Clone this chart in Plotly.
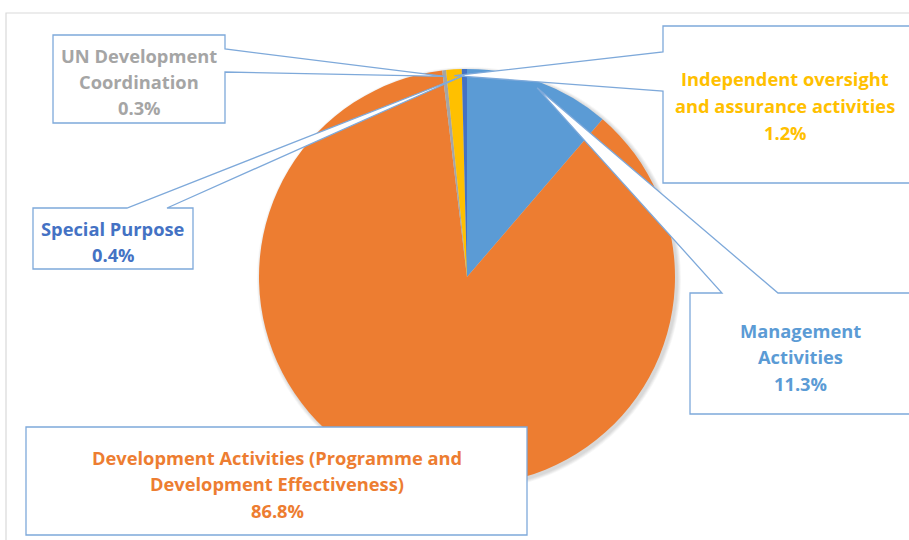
import math
import plotly.graph_objects as go

W, H = 909, 540

# ---- data (clockwise from 12 o'clock) ----
categories = ["Management Activities",
              "Development Activities (Programme and Development Effectiveness)",
              "UN Development Coordination",
              "Independent oversight and assurance activities",
              "Special Purpose"]
values = [11.3, 86.8, 0.3, 1.2, 0.4]
colors = ["#5B9BD5", "#ED7D31", "#A5A5A5", "#FFC000", "#4472C4"]
label_lines = [["Management", "Activities"],
               ["Development Activities (Programme and", "Development Effectiveness)"],
               ["UN Development", "Coordination"],
               ["Independent oversight", "and assurance activities"],
               ["Special Purpose"]]

# ---- layout geometry (pixels, y from top) ----
CX, CY, R = 467, 277, 208
boxes = [
    dict(box=(690, 293, 915, 414), tx=800, ty=330, edge="top", base=(722, 778)),
    dict(box=(26, 427, 527, 535), tx=277, ty=457, edge=None, base=None),
    dict(box=(53, 35, 225, 123), tx=139, ty=55, edge="right", base=(49, 72)),
    dict(box=(663, 26, 915, 183), tx=785, ty=79, edge="left", base=(52, 91)),
    dict(box=(33, 208, 193, 269), tx=113, ty=228, edge="top", base=(127, 167)),
]
LINE_H = 26.5
BORDER = "#7EA9DA"

def px(x):
    return x / W

def py(y):
    return 1 - y / H

fig = go.Figure(go.Pie(
    labels=categories, values=values, sort=False, direction="clockwise",
    rotation=0, marker=dict(colors=colors, line=dict(width=0)),
    textinfo="none", hoverinfo="label+percent", showlegend=False,
    domain=dict(x=[px(CX - R), px(CX + R)], y=[py(CY + R), py(CY - R)]),
))

shapes = []
# outer chart border
shapes.append(dict(type="rect", xref="paper", yref="paper",
                   x0=px(6), y0=py(560), x1=px(930), y1=py(13),
                   line=dict(color="#D9D9D9", width=1.2), layer="below"))
# soft pie shadow
for k in range(1, 6):
    rr = R + k * 0.8
    sx, sy = CX + 2, CY + 2
    shapes.append(dict(type="circle", xref="paper", yref="paper",
                       x0=px(sx - rr), x1=px(sx + rr), y0=py(sy + rr), y1=py(sy - rr),
                       fillcolor="rgba(0,0,0,0.03)", line=dict(width=0), layer="below"))

annotations = []
total = sum(values)
cum = 0.0
for i, v in enumerate(values):
    mid = (cum + v / 2) / total * 2 * math.pi
    cum += v
    tipx = CX + 0.97 * R * math.sin(mid)
    tipy = CY - 0.97 * R * math.cos(mid)
    b = boxes[i]
    x0, y0, x1, y1 = b["box"]
    if b["edge"] is None:
        pts = [(x0, y0), (x1, y0), (x1, y1), (x0, y1)]
    elif b["edge"] == "top":
        a, c = b["base"]
        pts = [(x0, y0), (a, y0), (tipx, tipy), (c, y0), (x1, y0), (x1, y1), (x0, y1)]
    elif b["edge"] == "right":
        a, c = b["base"]
        pts = [(x0, y0), (x1, y0), (x1, a), (tipx, tipy), (x1, c), (x1, y1), (x0, y1)]
    else:  # left
        a, c = b["base"]
        pts = [(x0, y0), (x1, y0), (x1, y1), (x0, y1), (x0, c), (tipx, tipy), (x0, a)]
    path = "M " + " L ".join(f"{px(x):.5f},{py(y):.5f}" for x, y in pts) + " Z"
    shapes.append(dict(type="path", xref="paper", yref="paper", path=path,
                       fillcolor="white", line=dict(color=BORDER, width=1.3),
                       layer="above"))
    lines = label_lines[i] + [f"{v:.1f}%"]
    for k, t in enumerate(lines):
        annotations.append(dict(
            x=px(b["tx"]), y=py(b["ty"] + k * LINE_H), xref="paper", yref="paper",
            text=f"<b>{t}</b>", showarrow=False, xanchor="center", yanchor="middle",
            font=dict(family="Open Sans", size=18.3, color=colors[i])))

fig.update_layout(
    width=W, height=H, margin=dict(l=0, r=0, t=0, b=0),
    paper_bgcolor="white", plot_bgcolor="white",
    shapes=shapes, annotations=annotations,
)

fig.write_html("out.html", config={"displayModeBar": False},
               post_script="document.body.style.margin='0';document.body.style.overflow='hidden';")
